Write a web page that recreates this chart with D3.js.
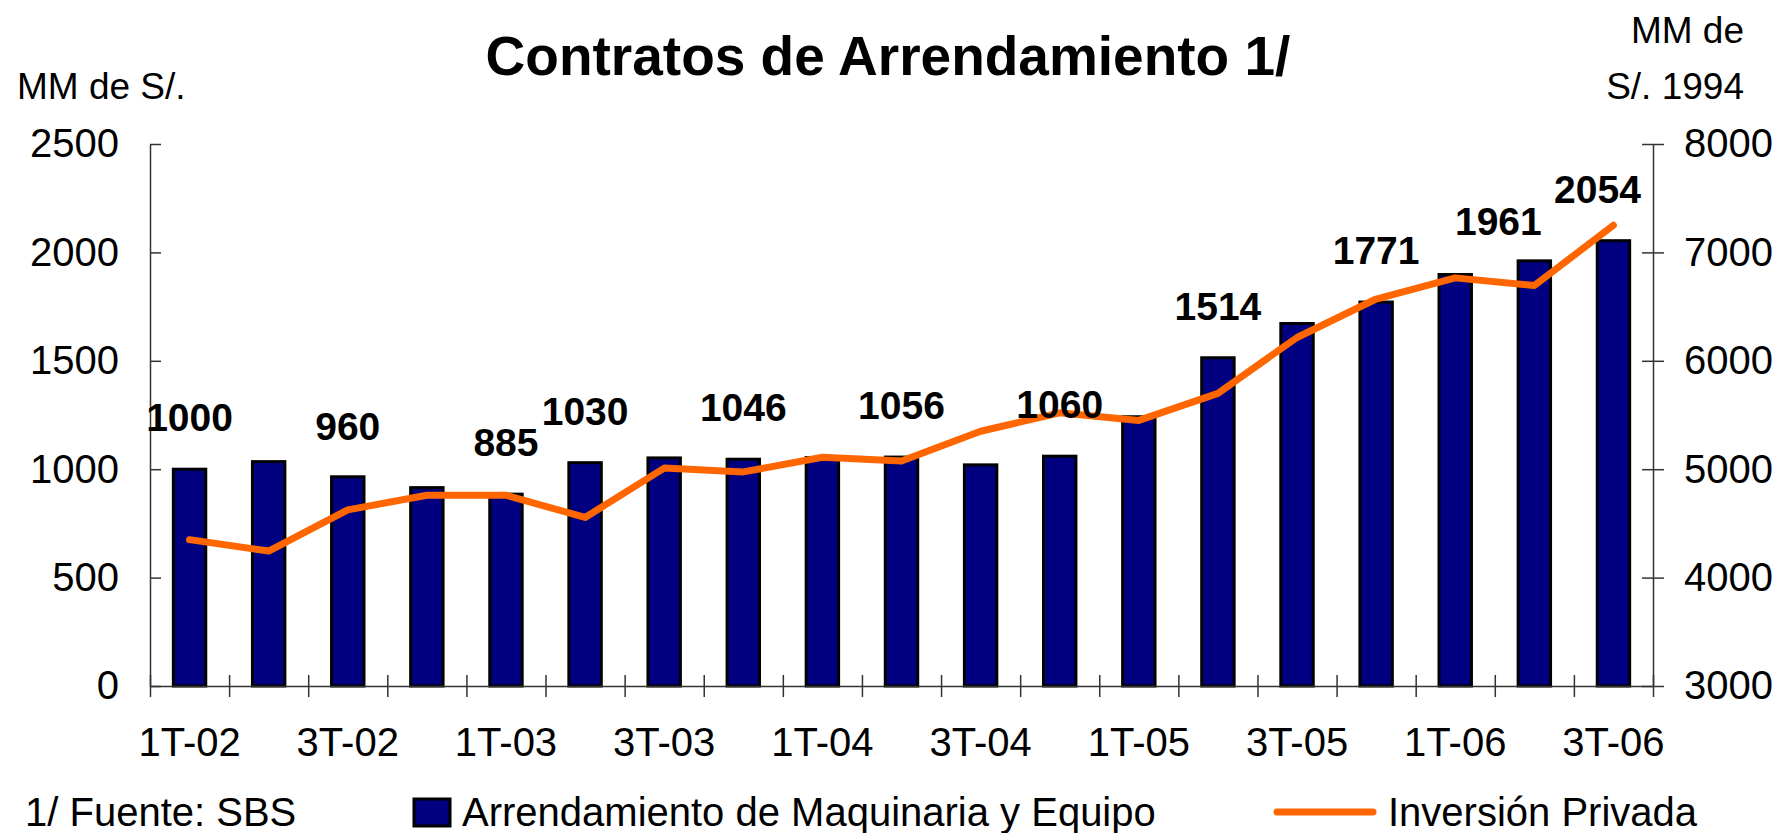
<!DOCTYPE html>
<html>
<head>
  <meta charset="utf-8">
  <style>
    body { margin: 0; background: #fff; }
    text { font-family: Arial, "Liberation Sans", sans-serif; fill: #000; }
  </style>
</head>
<body>

  <script src="https://cdn.jsdelivr.net/npm/d3@7/dist/d3.min.js"></script>

  <script>
    // data
    var quarters = ["1T-02", "2T-02", "3T-02", "4T-02", "1T-03", "2T-03", "3T-03", "4T-03",
                    "1T-04", "2T-04", "3T-04", "4T-04", "1T-05", "2T-05", "3T-05", "4T-05",
                    "1T-06", "2T-06", "3T-06"];
    var shownTicks = ["1T-02", "3T-02", "1T-03", "3T-03", "1T-04", "3T-04", "1T-05", "3T-05", "1T-06", "3T-06"];
    var arrendamiento = [1000, 1035, 965, 915, 885, 1030, 1052, 1046, 1054, 1056, 1020, 1060,
                         1242, 1514, 1672, 1771, 1898, 1961, 2054];
    var inversion = [4350, 4245, 4625, 4760, 4760, 4555, 5010, 4975, 5110, 5075, 5350, 5520,
                     5450, 5700, 6215, 6570, 6765, 6695, 7250];
    // labelled bars (quarter -> value printed above)
    var barLabels = {"1T-02": 1000, "3T-02": 960, "1T-03": 885, "2T-03": 1030, "4T-03": 1046,
                     "2T-04": 1056, "4T-04": 1060, "2T-05": 1514, "4T-05": 1771, "2T-06": 1961, "3T-06": 2054};
    var leftTicks = [0, 500, 1000, 1500, 2000, 2500];
    var rightTicks = [3000, 4000, 5000, 6000, 7000, 8000];

    var width = 1776;
    var height = 833;
    var margin = {top: 144, right: 123, bottom: 147, left: 150};
    var plotRight = width - margin.right;
    var plotBottom = height - margin.bottom;
    var axisFont = "40px";

    var svg = d3.select("body")
                .append("svg")
                .attr("width", width)
                .attr("height", height);

    // scales
    var x = d3.scaleBand()
              .domain(quarters)
              .range([margin.left, plotRight])
              .paddingInner(0.59)
              .paddingOuter(0.295);
    var yL = d3.scaleLinear().domain([0, 2500]).range([plotBottom, margin.top]);
    var yR = d3.scaleLinear().domain([3000, 8000]).range([plotBottom, margin.top]);

    // bars
    svg.selectAll(".bar")
       .data(arrendamiento)
       .enter()
       .append("rect")
       .attr("class", "bar")
       .attr("x", function(d, i) { return x(quarters[i]); })
       .attr("y", function(d) { return yL(d); })
       .attr("width", x.bandwidth())
       .attr("height", function(d) { return plotBottom - yL(d); })
       .attr("fill", "#000080")
       .attr("stroke", "#000")
       .attr("stroke-width", 3);

    // x axis: line + crossing ticks at band edges, labels on every other quarter
    var edges = d3.scaleLinear().domain([0, quarters.length]).range([margin.left, plotRight]);
    var xEdges = svg.append("g")
       .attr("transform", "translate(0," + plotBottom + ")")
       .call(d3.axisBottom(edges).ticks(quarters.length).tickSizeOuter(0).tickFormat(""));
    xEdges.selectAll(".tick line").attr("y1", -11).attr("y2", 11).attr("stroke", "#333").attr("stroke-width", 1.5);
    xEdges.select(".domain").attr("stroke", "#333").attr("stroke-width", 1.5);

    var xLabels = svg.append("g")
       .attr("transform", "translate(0," + plotBottom + ")")
       .call(d3.axisBottom(x).tickValues(shownTicks).tickSize(0).tickPadding(42));
    xLabels.select(".domain").remove();
    xLabels.selectAll("text").style("font-size", axisFont).style("font-family", "Arial, 'Liberation Sans', sans-serif");

    // left axis
    var left = svg.append("g")
       .attr("transform", "translate(" + margin.left + ",0)")
       .call(d3.axisLeft(yL).tickValues(leftTicks).tickFormat(d3.format("d"))
               .tickSizeInner(11).tickSizeOuter(0).tickPadding(20));
    left.selectAll(".tick line").attr("x2", 11).attr("stroke", "#333").attr("stroke-width", 1.5);
    left.select(".domain").attr("stroke", "#333").attr("stroke-width", 1.5);
    left.selectAll("text").style("font-size", axisFont).style("font-family", "Arial, 'Liberation Sans', sans-serif");

    // right axis
    var right = svg.append("g")
       .attr("transform", "translate(" + plotRight + ",0)")
       .call(d3.axisRight(yR).tickValues(rightTicks).tickFormat(d3.format("d"))
               .tickSizeInner(11).tickSizeOuter(0).tickPadding(20));
    right.selectAll(".tick line").attr("x1", -11).attr("stroke", "#333").attr("stroke-width", 1.5);
    right.select(".domain").attr("stroke", "#333").attr("stroke-width", 1.5);
    right.selectAll("text").style("font-size", axisFont).style("font-family", "Arial, 'Liberation Sans', sans-serif");

    // private investment line
    var line = d3.line()
       .x(function(d, i) { return x(quarters[i]) + x.bandwidth() / 2; })
       .y(function(d) { return yR(d); });

    svg.append("path")
       .datum(inversion)
       .attr("d", line)
       .attr("fill", "none")
       .attr("stroke", "#FF6600")
       .attr("stroke-width", 7)
       .attr("stroke-linejoin", "round")
       .attr("stroke-linecap", "round");

    // value labels above the bars (two are nudged left in the original)
    var nudge = {"2T-06": [-36, 12], "3T-06": [-16, 0]};
    svg.selectAll(".vlabel")
       .data(Object.keys(barLabels))
       .enter()
       .append("text")
       .attr("class", "vlabel")
       .attr("x", function(q) { return x(q) + x.bandwidth() / 2 + (nudge[q] ? nudge[q][0] : 0); })
       .attr("y", function(q) { return yL(barLabels[q]) - 38 + (nudge[q] ? nudge[q][1] : 0); })
       .attr("text-anchor", "middle")
       .style("font-size", "39px")
       .style("font-weight", "bold")
       .text(function(q) { return barLabels[q]; });

    // title and axis units
    svg.append("text")
       .attr("x", width / 2)
       .attr("y", 75)
       .attr("text-anchor", "middle")
       .style("font-size", "55px")
       .style("font-weight", "bold")
       .text("Contratos de Arrendamiento 1/");

    svg.append("text")
       .attr("x", 17)
       .attr("y", 99)
       .style("font-size", "37px")
       .text("MM de S/.");

    svg.append("text")
       .attr("x", 1744)
       .attr("y", 43)
       .attr("text-anchor", "end")
       .style("font-size", "37px")
       .text("MM de");

    svg.append("text")
       .attr("x", 1744)
       .attr("y", 99)
       .attr("text-anchor", "end")
       .style("font-size", "37px")
       .text("S/. 1994");

    // footer + legend
    svg.append("text")
       .attr("x", 25)
       .attr("y", 826)
       .style("font-size", "40px")
       .text("1/ Fuente: SBS");

    svg.append("rect")
       .attr("x", 414)
       .attr("y", 799)
       .attr("width", 36)
       .attr("height", 27)
       .attr("fill", "#000080")
       .attr("stroke", "#000")
       .attr("stroke-width", 3);

    svg.append("text")
       .attr("x", 462)
       .attr("y", 826)
       .style("font-size", "40px")
       .text("Arrendamiento de Maquinaria y Equipo");

    svg.append("line")
       .attr("x1", 1277)
       .attr("x2", 1373)
       .attr("y1", 812)
       .attr("y2", 812)
       .attr("stroke", "#FF6600")
       .attr("stroke-width", 7)
       .attr("stroke-linecap", "round");

    svg.append("text")
       .attr("x", 1388)
       .attr("y", 826)
       .style("font-size", "40px")
       .text("Inversión Privada");
  </script>

</body>
</html>
